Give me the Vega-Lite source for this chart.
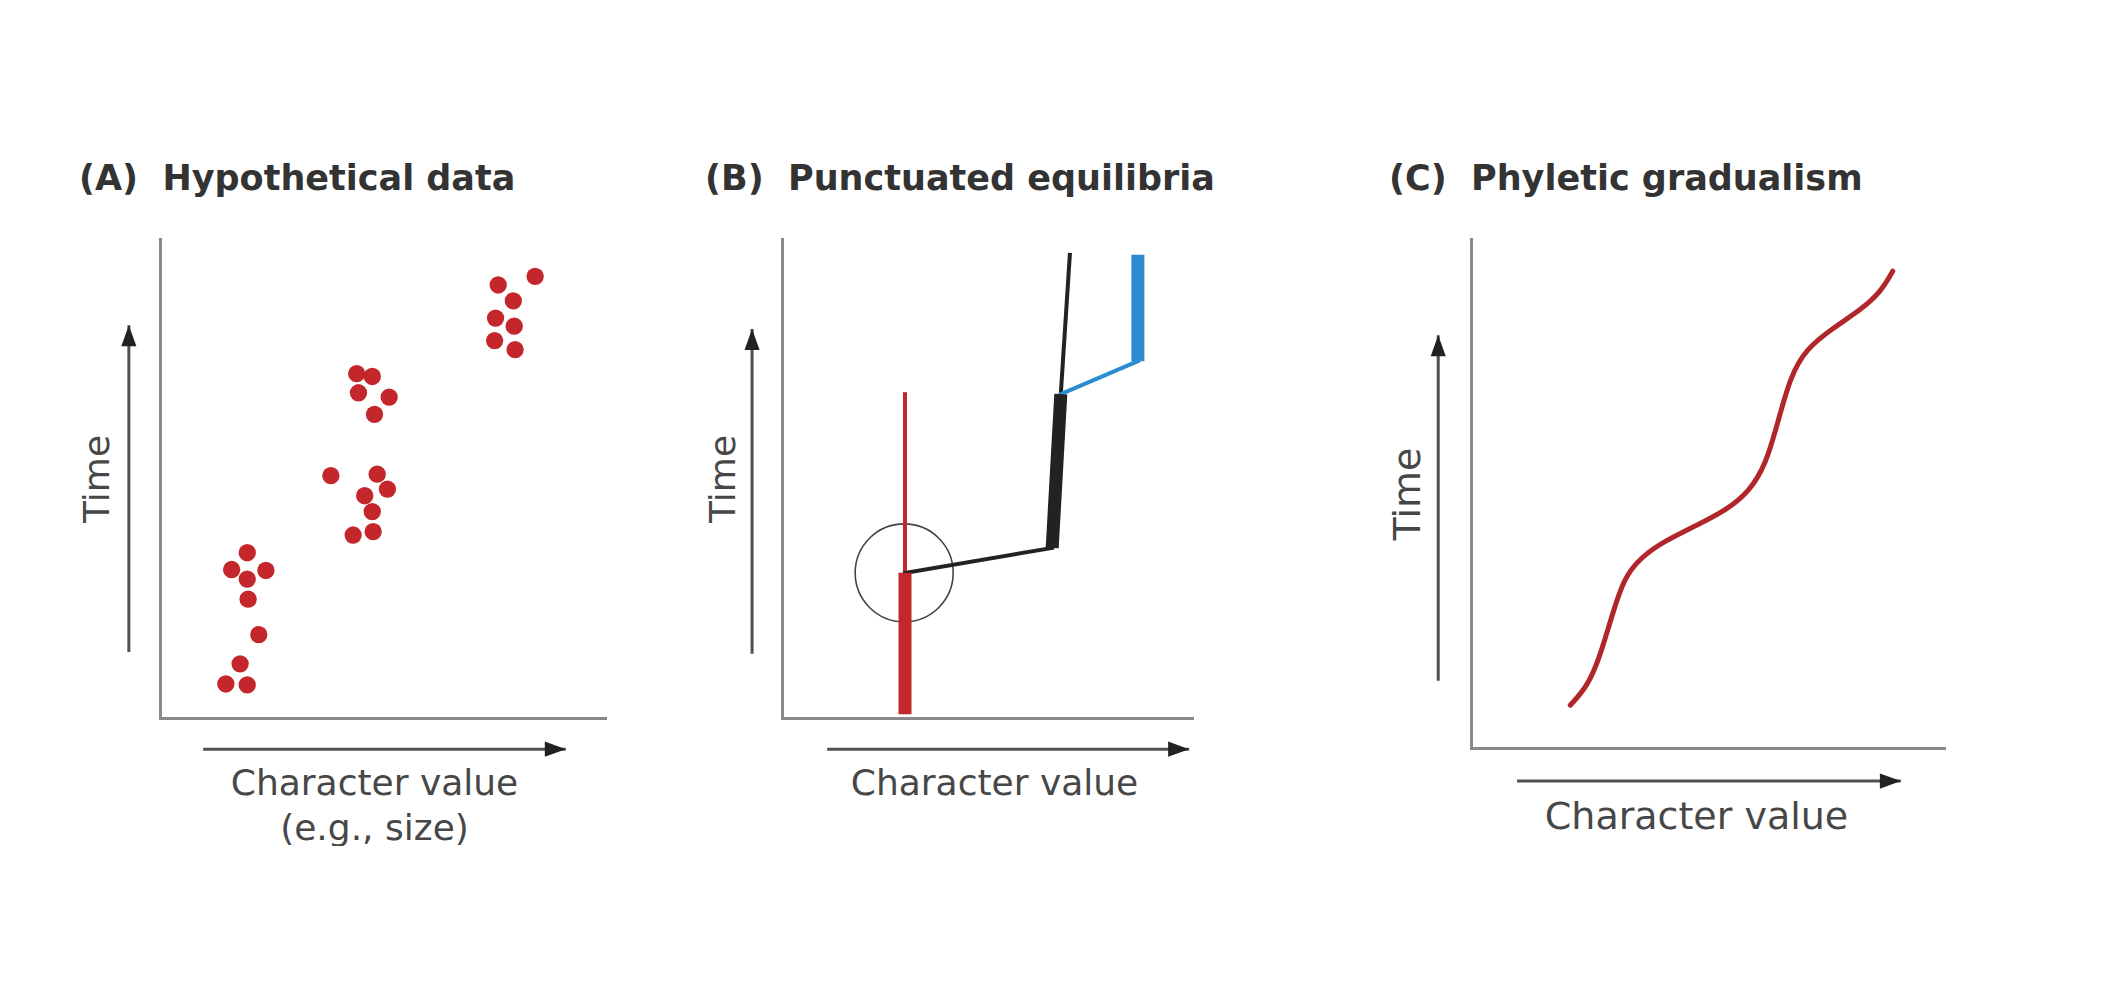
{
  "$schema": "https://vega.github.io/schema/vega-lite/v6.json",
  "background": "white",
  "padding": {"left": 79, "top": 162, "right": 0, "bottom": 0},
  "config": {
    "view": {"stroke": null},
    "axis": {"domainColor": "#8a8a8a", "domainWidth": 3, "domainCap": "square", "ticks": false, "labels": false, "grid": false, "titleFont": "DejaVu Sans", "titleFontSize": 36, "titleFontWeight": "normal", "titleColor": "#474747"},
    "axisX": {"titleBaseline": "top", "titleAlign": "center", "titleLineHeight": 45},
    "axisY": {"titleAngle": 270, "titleBaseline": "bottom", "titleAlign": "center"},
    "title": {"font": "DejaVu Sans", "fontSize": 35, "fontWeight": "bold", "color": "#333333", "anchor": "start", "frame": "bounds", "baseline": "bottom", "offset": 42}
  },
  "bounds": "flush",
  "spacing": 1311,
  "hconcat": [
    {
      "bounds": "flush",
      "spacing": 177,
      "hconcat": [
        {
          "width": 445,
          "height": 479,
          "title": {"text": "(A)\u00a0\u00a0Hypothetical data"},
          "layer": [
            {
              "data": {"values": [
                {"value": 84.3, "time": 92.2}, {"value": 76.0, "time": 90.4}, {"value": 79.4, "time": 87.1}, {"value": 75.4, "time": 83.5}, {"value": 79.6, "time": 81.8}, {"value": 75.2, "time": 78.8}, {"value": 79.8, "time": 76.9},
                {"value": 44.2, "time": 71.9}, {"value": 47.7, "time": 71.3}, {"value": 44.6, "time": 67.9}, {"value": 51.5, "time": 67.0}, {"value": 48.2, "time": 63.4},
                {"value": 38.4, "time": 50.6}, {"value": 48.8, "time": 50.9}, {"value": 51.1, "time": 47.8}, {"value": 46.0, "time": 46.4}, {"value": 47.7, "time": 43.1}, {"value": 43.4, "time": 38.2}, {"value": 47.9, "time": 38.9},
                {"value": 19.6, "time": 34.5}, {"value": 16.1, "time": 31.0}, {"value": 23.8, "time": 30.8}, {"value": 19.6, "time": 29.0}, {"value": 19.8, "time": 24.8}, {"value": 22.2, "time": 17.4}, {"value": 18.0, "time": 11.3}, {"value": 14.8, "time": 7.1}, {"value": 19.6, "time": 6.9}
              ]},
              "mark": {"type": "point", "filled": true, "size": 300, "color": "#c3272b", "opacity": 1},
              "encoding": {
                "x": {"field": "value", "type": "quantitative", "scale": {"domain": [0, 100], "nice": false, "zero": false}, "axis": {"title": ["Character value", "(e.g., size)"], "titleX": 214, "titlePadding": 48}},
                "y": {"field": "time", "type": "quantitative", "scale": {"domain": [0, 100], "nice": false, "zero": false}, "axis": {"title": "Time", "titlePadding": 44}}
              }
            },
            {
              "data": {"values": [
                {"dir": "right", "x": 9.7, "y": -6.5, "x2": 91.2, "y2": -6.5},
                {"dir": "up", "x": -7.0, "y": 13.8, "x2": -7.0, "y2": 82.0}
              ]},
              "layer": [
                {
                  "mark": {"type": "rule", "strokeWidth": 3, "color": "#505050"},
                  "encoding": {
                    "x": {"field": "x", "type": "quantitative", "scale": {"domain": [0, 100], "nice": false, "zero": false}},
                    "y": {"field": "y", "type": "quantitative", "scale": {"domain": [0, 100], "nice": false, "zero": false}},
                    "x2": {"field": "x2"},
                    "y2": {"field": "y2"}
                  }
                },
                {
                  "mark": {"type": "point", "filled": true, "size": 441, "color": "#222222", "opacity": 1},
                  "encoding": {
                    "x": {"field": "x2", "type": "quantitative", "scale": {"domain": [0, 100], "nice": false, "zero": false}},
                    "y": {"field": "y2", "type": "quantitative", "scale": {"domain": [0, 100], "nice": false, "zero": false}},
                    "shape": {"field": "dir", "type": "nominal", "scale": {"domain": ["right", "up"], "range": ["M-2,-0.72L0,0L-2,0.72Z", "M-0.72,2L0,0L0.72,2Z"]}, "legend": null}
                  }
                }
              ]
            }
          ]
        },
        {
          "width": 410,
          "height": 479,
          "title": {"text": "(B)\u00a0\u00a0Punctuated equilibria"},
          "layer": [
            {
              "data": {"values": [{"value": 29.8, "time": 30.3}]},
              "mark": {"type": "point", "shape": "circle", "filled": false, "size": 9604, "stroke": "#444444", "strokeWidth": 1.6, "opacity": 1},
              "encoding": {
                "x": {"field": "value", "type": "quantitative", "scale": {"domain": [0, 100], "nice": false, "zero": false}, "axis": {"title": "Character value", "titleX": 212, "titlePadding": 48}},
                "y": {"field": "time", "type": "quantitative", "scale": {"domain": [0, 100], "nice": false, "zero": false}, "axis": {"title": "Time", "titlePadding": 40}}
              }
            },
            {
              "data": {"values": [
                {"lineage": "ancestral", "x": 30.0, "y": 30.3, "x2": 30.0, "y2": 67.6},
                {"lineage": "daughter", "x": 30.0, "y": 30.3, "x2": 65.9, "y2": 35.5},
                {"lineage": "daughter", "x": 68.0, "y": 67.6, "x2": 70.2, "y2": 96.7},
                {"lineage": "granddaughter", "x": 68.0, "y": 67.6, "x2": 86.8, "y2": 74.5}
              ]},
              "mark": {"type": "rule", "strokeWidth": 4, "strokeCap": "square"},
              "encoding": {
                "x": {"field": "x", "type": "quantitative", "scale": {"domain": [0, 100], "nice": false, "zero": false}},
                "y": {"field": "y", "type": "quantitative", "scale": {"domain": [0, 100], "nice": false, "zero": false}},
                "x2": {"field": "x2"},
                "y2": {"field": "y2"},
                "color": {"field": "lineage", "type": "nominal", "scale": {"domain": ["ancestral", "daughter", "granddaughter"], "range": ["#c0282c", "#222222", "#2b8ccf"]}, "legend": null}
              }
            },
            {
              "data": {"values": [
                {"lineage": "ancestral", "x": 30.0, "y": 0.8, "x2": 30.0, "y2": 30.3},
                {"lineage": "daughter", "x": 65.9, "y": 35.5, "x2": 68.0, "y2": 67.6},
                {"lineage": "granddaughter", "x": 86.8, "y": 74.5, "x2": 86.8, "y2": 96.7}
              ]},
              "mark": {"type": "rule", "strokeWidth": 13, "strokeCap": "butt"},
              "encoding": {
                "x": {"field": "x", "type": "quantitative", "scale": {"domain": [0, 100], "nice": false, "zero": false}},
                "y": {"field": "y", "type": "quantitative", "scale": {"domain": [0, 100], "nice": false, "zero": false}},
                "x2": {"field": "x2"},
                "y2": {"field": "y2"},
                "color": {"field": "lineage", "type": "nominal", "scale": {"domain": ["ancestral", "daughter", "granddaughter"], "range": ["#c0282c", "#222222", "#2b8ccf"]}, "legend": null}
              }
            },
            {
              "data": {"values": [
                {"dir": "right", "x": 11.0, "y": -6.5, "x2": 99.3, "y2": -6.5},
                {"dir": "up", "x": -7.3, "y": 13.4, "x2": -7.3, "y2": 81.2}
              ]},
              "layer": [
                {
                  "mark": {"type": "rule", "strokeWidth": 3, "color": "#505050"},
                  "encoding": {
                    "x": {"field": "x", "type": "quantitative", "scale": {"domain": [0, 100], "nice": false, "zero": false}},
                    "y": {"field": "y", "type": "quantitative", "scale": {"domain": [0, 100], "nice": false, "zero": false}},
                    "x2": {"field": "x2"},
                    "y2": {"field": "y2"}
                  }
                },
                {
                  "mark": {"type": "point", "filled": true, "size": 441, "color": "#222222", "opacity": 1},
                  "encoding": {
                    "x": {"field": "x2", "type": "quantitative", "scale": {"domain": [0, 100], "nice": false, "zero": false}},
                    "y": {"field": "y2", "type": "quantitative", "scale": {"domain": [0, 100], "nice": false, "zero": false}},
                    "shape": {"field": "dir", "type": "nominal", "scale": {"domain": ["right", "up"], "range": ["M-2,-0.72L0,0L-2,0.72Z", "M-0.72,2L0,0L0.72,2Z"]}, "legend": null}
                  }
                }
              ]
            }
          ]
        }
      ]
    },
    {
      "width": 475,
      "height": 509,
      "title": {"text": "(C)\u00a0\u00a0Phyletic gradualism"},
      "layer": [
        {
          "data": {"values": [
            {"value": 20.9, "time": 8.4}, {"value": 24.6, "time": 12.2}, {"value": 27.2, "time": 18.1}, {"value": 29.7, "time": 26.1}, {"value": 32.2, "time": 33.4}, {"value": 35.6, "time": 37.3}, {"value": 40.4, "time": 40.5}, {"value": 47.2, "time": 43.6}, {"value": 53.9, "time": 46.8}, {"value": 58.7, "time": 50.5}, {"value": 62.1, "time": 55.8}, {"value": 64.6, "time": 64.0}, {"value": 67.2, "time": 72.9}, {"value": 70.5, "time": 78.4}, {"value": 76.2, "time": 82.5}, {"value": 82.1, "time": 86.1}, {"value": 86.3, "time": 89.6}, {"value": 88.8, "time": 93.7}
          ]},
          "mark": {"type": "line", "interpolate": "basis", "strokeWidth": 5, "strokeCap": "round", "color": "#b0262b"},
          "encoding": {
            "x": {"field": "value", "type": "quantitative", "scale": {"domain": [0, 100], "nice": false, "zero": false}, "axis": {"title": "Character value", "titleX": 225, "titlePadding": 50, "titleFontSize": 38}},
            "y": {"field": "time", "type": "quantitative", "scale": {"domain": [0, 100], "nice": false, "zero": false}, "axis": {"title": "Time", "titlePadding": 44, "titleFontSize": 38}}
          }
        },
        {
          "data": {"values": [
            {"dir": "right", "x": 9.7, "y": -6.5, "x2": 90.5, "y2": -6.5},
            {"dir": "up", "x": -6.9, "y": 13.2, "x2": -6.9, "y2": 81.1}
          ]},
          "layer": [
            {
              "mark": {"type": "rule", "strokeWidth": 3, "color": "#505050"},
              "encoding": {
                "x": {"field": "x", "type": "quantitative", "scale": {"domain": [0, 100], "nice": false, "zero": false}},
                "y": {"field": "y", "type": "quantitative", "scale": {"domain": [0, 100], "nice": false, "zero": false}},
                "x2": {"field": "x2"},
                "y2": {"field": "y2"}
              }
            },
            {
              "mark": {"type": "point", "filled": true, "size": 441, "color": "#222222", "opacity": 1},
              "encoding": {
                "x": {"field": "x2", "type": "quantitative", "scale": {"domain": [0, 100], "nice": false, "zero": false}},
                "y": {"field": "y2", "type": "quantitative", "scale": {"domain": [0, 100], "nice": false, "zero": false}},
                "shape": {"field": "dir", "type": "nominal", "scale": {"domain": ["right", "up"], "range": ["M-2,-0.72L0,0L-2,0.72Z", "M-0.72,2L0,0L0.72,2Z"]}, "legend": null}
              }
            }
          ]
        }
      ]
    }
  ]
}
